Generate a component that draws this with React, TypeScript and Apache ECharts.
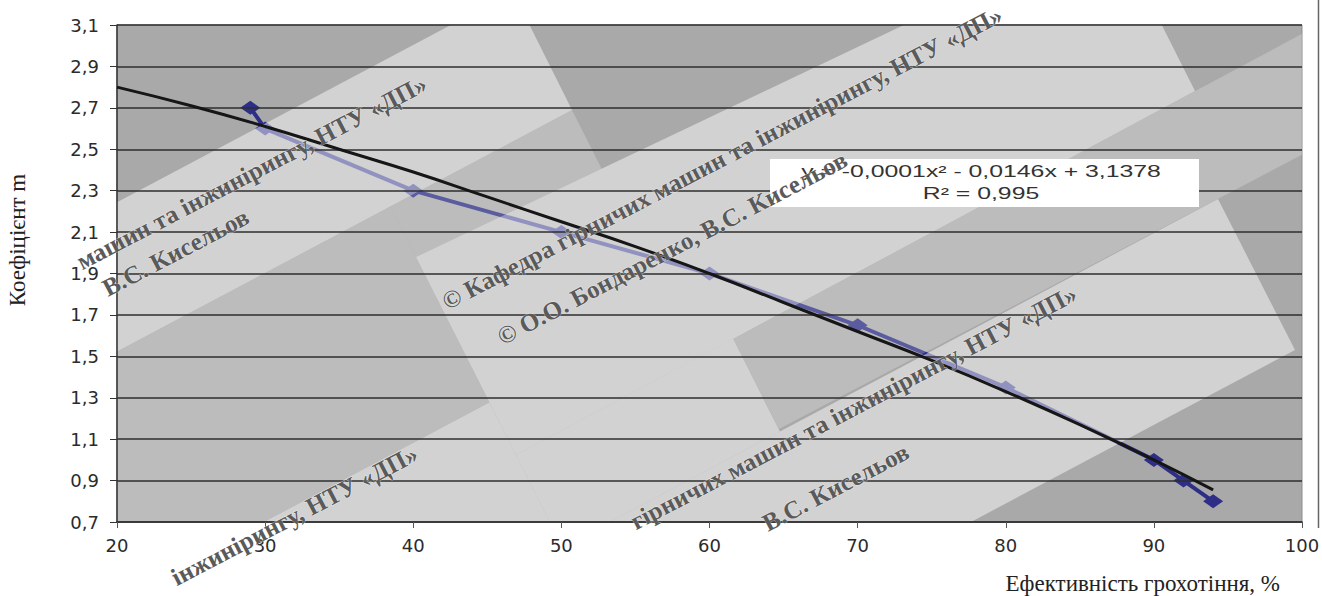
import React, { useEffect, useRef } from "react";
import * as echarts from "echarts";

// ---- data ----
const efficiency = [29, 30, 40, 50, 60, 70, 80, 90, 92, 94];
const coefficient = [2.7, 2.6, 2.3, 2.1, 1.9, 1.65, 1.35, 1.0, 0.9, 0.8];
const trendX = [20, 25, 30, 35, 40, 45, 50, 55, 60, 65, 70, 75, 80, 85, 90, 94];
const trendY = [2.8, 2.71, 2.61, 2.5, 2.39, 2.27, 2.15, 2.03, 1.9, 1.76, 1.62, 1.48, 1.33, 1.17, 1.0, 0.855];
const equationLines = ["y = -0,0001x² - 0,0146x + 3,1378", "R² = 0,995"];
const xTitle = "Ефективність грохотіння, %";
const yTitle = "Коефіцієнт m";
const watermarkTexts = [
  "машин та інжинірингу, НТУ «ДП»",
  "В.С. Кисельов",
  "© Кафедра гірничих машин та інжинірингу, НТУ «ДП»",
  "© О.О. Бондаренко, В.С. Кисельов",
  "гірничих машин та інжинірингу, НТУ «ДП»",
  "В.С. Кисельов",
  "інжинірингу, НТУ «ДП»",
];

// ---- layout (decoration only) ----
const PLOT = { l: 117, t: 25, r: 1302, b: 522 };
type P = [number, number];
const stampA: P[] = [[-282, 414], [513, -8], [572, 110], [-223, 532]];
const stampB: P[] = [[416, 257], [1112, -74], [1195, 91], [516, 455]];
const stampC: P[] = [[423, 621], [1218, 199], [1295, 350], [500, 772]];
const stampD: P[] = [[-94, 697], [701, 275], [811, 493], [16, 915]];
const bandM: P[] = [[-223, 532], [572, 110], [671, 306], [-124, 728]];
const bandM2: P[] = [[733, 338], [1500, -72], [1500, 51], [779, 429]];
// anchor points: align "right" = end of the text, "center" = middle
const watermarkPlaces = [
  { x: 425, y: 82, align: "right" },
  { x: 247, y: 215, align: "right" },
  { x: 722, y: 158, align: "center" },
  { x: 672, y: 248, align: "center" },
  { x: 1075, y: 292, align: "right" },
  { x: 907, y: 450, align: "right" },
  { x: 416, y: 452, align: "right" },
];

// keep the part of a polygon on the same side of line a-b as point ref
function keepSide(poly: P[], a: P, b: P, ref: P): P[] {
  const side = (p: P) => (b[0] - a[0]) * (p[1] - a[1]) - (b[1] - a[1]) * (p[0] - a[0]);
  const s = Math.sign(side(ref));
  const out: P[] = [];
  for (let i = 0; i < poly.length; i++) {
    const cur = poly[i];
    const prev = poly[(i + poly.length - 1) % poly.length];
    const sc = side(cur) * s;
    const sp = side(prev) * s;
    const cut = (): P => {
      const k = sp / (sp - sc);
      return [prev[0] + k * (cur[0] - prev[0]), prev[1] + k * (cur[1] - prev[1])];
    };
    if (sc >= 0) {
      if (sp < 0) out.push(cut());
      out.push(cur);
    } else if (sp >= 0) out.push(cut());
  }
  return out;
}
function clipToPlot(poly: P[]): P[] {
  let p = poly;
  p = keepSide(p, [PLOT.l, 0], [PLOT.l, 1], [PLOT.l + 10, 0]);
  p = keepSide(p, [PLOT.r, 0], [PLOT.r, 1], [PLOT.r - 10, 0]);
  p = keepSide(p, [0, PLOT.t], [1, PLOT.t], [0, PLOT.t + 10]);
  p = keepSide(p, [0, PLOT.b], [1, PLOT.b], [0, PLOT.b - 10]);
  return p;
}

export default function App() {
  const ref = useRef<HTMLDivElement>(null);
  useEffect(() => {
    if (!ref.current) return;
    const chart = echarts.init(ref.current, undefined, { renderer: "svg" });
    const rot = (27.5 * Math.PI) / 180;

    const bLeft: [P, P] = [stampB[0], stampB[3]];
    const bUpper: [P, P] = [stampB[0], stampB[1]];
    const bLower: [P, P] = [stampB[3], stampB[2]];
    const cUpper: [P, P] = [stampC[0], stampC[1]];
    const mLower: [P, P] = [bandM[3], bandM[2]];
    const LEFT: P = [0, 0];
    const RIGHT: P = [1000, 300];

    const mediumPieces: P[][] = [
      keepSide(bandM, bLeft[0], bLeft[1], LEFT),
      keepSide(keepSide(bandM, bLeft[0], bLeft[1], RIGHT), bUpper[0], bUpper[1], LEFT),
      bandM2,
    ];
    const lightPieces: P[][] = [
      stampA,
      stampB,
      stampC,
      keepSide(keepSide(keepSide(stampD, bLeft[0], bLeft[1], LEFT), cUpper[0], cUpper[1], LEFT), mLower[0], mLower[1], [0, 900]),
      keepSide(keepSide(keepSide(stampD, bLeft[0], bLeft[1], RIGHT), bLower[0], bLower[1], [1000, 600]), cUpper[0], cUpper[1], LEFT),
    ];

    const elements: any[] = [];
    mediumPieces.forEach((poly) => {
      const pts = clipToPlot(poly);
      if (pts.length > 2)
        elements.push({ type: "polygon", silent: true, z: 3, shape: { points: pts }, style: { fill: "rgba(255,255,255,0.22)" } });
    });
    lightPieces.forEach((poly) => {
      const pts = clipToPlot(poly);
      if (pts.length > 2)
        elements.push({ type: "polygon", silent: true, z: 3, shape: { points: pts }, style: { fill: "rgba(255,255,255,0.48)" } });
    });
    elements.push({
      type: "rect", silent: true, z: 6,
      shape: { x: 770, y: 159, width: 429, height: 48 },
      style: { fill: "#ffffff" },
    });
    equationLines.forEach((txt, i) => {
      elements.push({
        type: "text", silent: true, z: 7, x: 981, y: 171 + i * 22, scaleX: 1.55,
        style: { text: txt, font: '16px "Liberation Sans"', fill: "#333333", textAlign: "center", textVerticalAlign: "middle" },
      });
    });
    watermarkPlaces.forEach((w, i) => {
      elements.push({
        type: "text", silent: true, z: 8, x: w.x, y: w.y, rotation: rot,
        style: {
          text: watermarkTexts[i],
          font: 'bold 25px "Liberation Serif"', fill: "#5a5a5a",
          textAlign: w.align, textVerticalAlign: "middle",
          stroke: "rgba(255,255,255,0.5)", lineWidth: 1,
        },
      });
    });
    elements.push({
      type: "text", silent: true, z: 8, x: 1280, y: 583,
      style: { text: xTitle, font: '23px "Liberation Serif"', fill: "#222222", textAlign: "right", textVerticalAlign: "middle" },
    });
    elements.push({ type: "rect", silent: true, z: 9, shape: { x: 1319, y: 0, width: 3, height: 596 }, style: { fill: "#ffffff" } });
    elements.push({ type: "line", silent: true, z: 9, shape: { x1: 1318.5, y1: 0, x2: 1318.5, y2: 528 }, style: { stroke: "#666666", lineWidth: 1.5 } });

    const labelStyle = { fontFamily: "DejaVu Sans", fontSize: 18, color: "#2b2b2b" };
    chart.setOption({
      animation: false,
      backgroundColor: "#ffffff",
      grid: {
        left: PLOT.l, top: PLOT.t, right: 1322 - PLOT.r, bottom: 596 - PLOT.b,
        outerBoundsMode: "none", containLabel: false,
        show: true, backgroundColor: "#a9a9a9", borderColor: "#8c8c8c", borderWidth: 1, z: 0,
      },
      xAxis: {
        type: "value", min: 20, max: 100, interval: 10, z: 4,
        axisLine: { show: true, onZero: false, lineStyle: { color: "#333", width: 1.5 } },
        axisTick: { show: true, length: 6, lineStyle: { color: "#555" } },
        axisLabel: { ...labelStyle, margin: 14 },
        splitLine: { show: false },
      },
      yAxis: {
        type: "value", min: 0.7, max: 3.1, interval: 0.2, z: 4,
        name: yTitle, nameLocation: "middle", nameRotate: 90, nameGap: 88,
        nameTextStyle: { fontFamily: "Liberation Serif", fontSize: 23, color: "#222", padding: [0, 0, 0, 67] },
        axisLine: { show: true, onZero: false, lineStyle: { color: "#333", width: 1.5 } },
        axisTick: { show: true, length: 7, lineStyle: { color: "#333" } },
        axisLabel: { ...labelStyle, margin: 18, formatter: (v: number) => v.toFixed(1).replace(".", ",") },
        splitLine: { show: true, lineStyle: { color: "#2e2e2e", width: 1.5 } },
      },
      series: [
        {
          type: "line", name: yTitle, z: 2,
          data: efficiency.map((x, i) => [x, coefficient[i]]),
          symbol: "diamond", symbolSize: [20, 14],
          itemStyle: { color: "#2e2e86" },
          lineStyle: { color: "#2e2e86", width: 4 },
        },
        {
          type: "line", name: "trend", z: 5, smooth: true, symbol: "none",
          data: trendX.map((x, i) => [x, trendY[i]]),
          lineStyle: { color: "#161616", width: 3 },
        },
      ],
      graphic: { elements },
    });
    return () => chart.dispose();
  }, []);
  return <div ref={ref} style={{ position: "fixed", left: 0, top: 0, width: 1322, height: 596 }} />;
}
